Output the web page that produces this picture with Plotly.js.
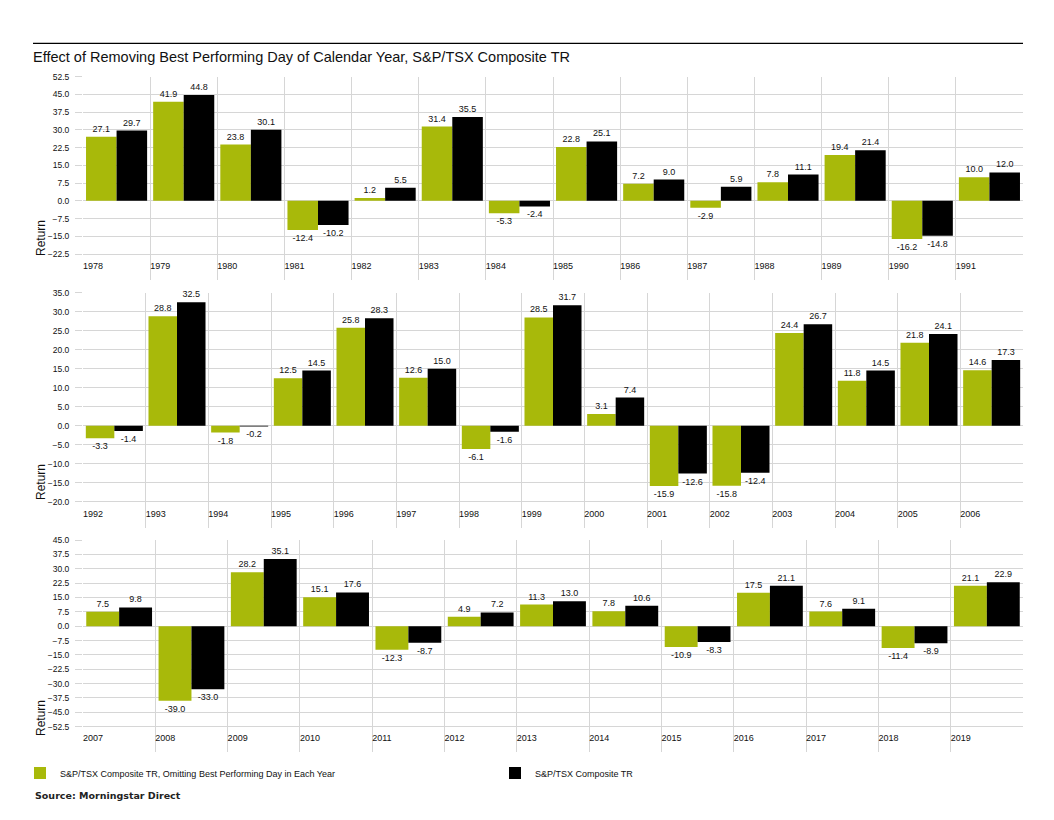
<!DOCTYPE html>
<html><head><meta charset="utf-8">
<script src="https://cdn.plot.ly/plotly-3.0.1.min.js"></script>
<style>html,body{margin:0;padding:0;background:#fff}#chart{width:1054px;height:820px}</style>
</head><body><div id="chart"></div>
<script>
// ---- data ----
const years1 = ['1978','1979','1980','1981','1982','1983','1984','1985','1986','1987','1988','1989','1990','1991'];
const omit1  = [27.1, 41.9, 23.8, -12.4, 1.2, 31.4, -5.3, 22.8, 7.2, -2.9, 7.8, 19.4, -16.2, 10.0];
const full1  = [29.7, 44.8, 30.1, -10.2, 5.5, 35.5, -2.4, 25.1, 9.0, 5.9, 11.1, 21.4, -14.8, 12.0];

const years2 = ['1992','1993','1994','1995','1996','1997','1998','1999','2000','2001','2002','2003','2004','2005','2006'];
const omit2  = [-3.3, 28.8, -1.8, 12.5, 25.8, 12.6, -6.1, 28.5, 3.1, -15.9, -15.8, 24.4, 11.8, 21.8, 14.6];
const full2  = [-1.4, 32.5, -0.2, 14.5, 28.3, 15.0, -1.6, 31.7, 7.4, -12.6, -12.4, 26.7, 14.5, 24.1, 17.3];

const years3 = ['2007','2008','2009','2010','2011','2012','2013','2014','2015','2016','2017','2018','2019'];
const omit3  = [7.5, -39.0, 28.2, 15.1, -12.3, 4.9, 11.3, 7.8, -10.9, 17.5, 7.6, -11.4, 21.1];
const full3  = [9.8, -33.0, 35.1, 17.6, -8.7, 7.2, 13.0, 10.6, -8.3, 21.1, 9.1, -8.9, 22.9];

const yTicks1 = [-22.5, -15, -7.5, 0, 7.5, 15, 22.5, 30, 37.5, 45, 52.5];
const yTicks2 = [-20, -15, -10, -5, 0, 5, 10, 15, 20, 25, 30, 35];
const yTicks3 = [-52.5, -45, -37.5, -30, -22.5, -15, -7.5, 0, 7.5, 15, 22.5, 30, 37.5, 45];

const seriesNames = ['S&P/TSX Composite TR, Omitting Best Performing Day in Each Year', 'S&P/TSX Composite TR'];
const chartTitle = 'Effect of Removing Best Performing Day of Calendar Year, S&P/TSX Composite TR';
const yTitle = 'Return';
const sourceText = 'Source: Morningstar Direct';

// ---- styling / layout ----
const W = 1054, H = 820;
const FONT = 'Liberation Sans, Arial, sans-serif';
const GREEN = '#A8B90A', BLACK = '#000000', GRID = '#d6d6d6', TXT = '#111111';
const px2x = p => p / W;
const px2y = p => 1 - p / H;

const panels = [
  {years: years1, omit: omit1, full: full1, ticks: yTicks1, topPx: 76.7, minPx: 254, botPx: 280, retPx: 238},
  {years: years2, omit: omit2, full: full2, ticks: yTicks2, topPx: 292.7, minPx: 501.7, botPx: 527.7, retPx: 482},
  {years: years3, omit: omit3, full: full3, ticks: yTicks3, topPx: 540, minPx: 726.7, botPx: 751.7, retPx: 718}
];

const traces = [];
const layout = {
  width: W, height: H,
  margin: {l: 0, r: 0, t: 0, b: 0},
  paper_bgcolor: '#fff', plot_bgcolor: '#fff',
  font: {family: FONT, size: 9, color: TXT},
  barmode: 'group', bargap: 0.09, bargroupgap: 0,
  showlegend: true,
  legend: {orientation: 'h', x: px2x(20), xanchor: 'left', y: px2y(773), yanchor: 'middle',
           font: {family: FONT, size: 9, color: TXT}, entrywidth: 430, entrywidthmode: 'pixels',
           itemwidth: 30, bgcolor: 'rgba(0,0,0,0)', traceorder: 'normal'},
  title: {text: chartTitle, x: px2x(33), xanchor: 'left', xref: 'paper', y: px2y(57), yanchor: 'middle', yref: 'paper',
          font: {family: FONT, size: 14.5, color: TXT}},
  shapes: [{type: 'line', xref: 'paper', yref: 'paper', x0: px2x(33), x1: px2x(1023), y0: px2y(43.3), y1: px2y(43.3),
            line: {color: '#000', width: 1.3}}],
  annotations: [{text: sourceText, xref: 'paper', yref: 'paper', x: px2x(33), xanchor: 'left', y: px2y(795), yanchor: 'middle',
                 showarrow: false, font: {family: 'DejaVu Sans, Verdana, sans-serif', size: 9.5, color: '#222', weight: 'bold'}}]
};

panels.forEach((p, k) => {
  const n = p.years.length;
  const idx = p.years.map((_, i) => i);
  const sfx = k === 0 ? '' : String(k + 1);
  const tmin = p.ticks[0], tmax = p.ticks[p.ticks.length - 1];
  const scale = (tmax - tmin) / (p.minPx - p.topPx);
  const rMin = tmin - (p.botPx - p.minPx) * scale;
  [[p.omit, GREEN, seriesNames[0]], [p.full, BLACK, seriesNames[1]]].forEach(([vals, col, name]) => {
    traces.push({
      type: 'bar', x: idx, y: vals, name: name, xaxis: 'x' + sfx, yaxis: 'y' + sfx,
      marker: {color: col, line: {width: 0}},
      text: vals.map(v => v.toFixed(1)), textposition: 'outside', constraintext: 'none',
      textfont: {family: FONT, size: 9, color: TXT}, cliponaxis: false,
      showlegend: k === 0, legendgroup: name, hoverinfo: 'skip'
    });
  });
  const tv = idx.map(i => i - 0.5).concat([n - 0.5]);
  layout['xaxis' + sfx] = {
    domain: [px2x(83), px2x(1023)], anchor: 'y' + sfx, range: [-0.5, n - 0.5],
    tickmode: 'array', tickvals: tv, ticktext: p.years.concat(['']),
    showgrid: true, gridcolor: GRID, gridwidth: 1, zeroline: false, showline: false,
    ticks: '', ticklabelposition: 'inside right', ticklabelstandoff: 3,
    tickfont: {family: FONT, size: 9, color: TXT}, fixedrange: true
  };
  layout['yaxis' + sfx] = {
    domain: [px2y(p.botPx), px2y(p.topPx)], anchor: 'x' + sfx, range: [rMin, tmax],
    tickmode: 'array', tickvals: p.ticks, tickformat: '.1f',
    showgrid: true, gridcolor: GRID, gridwidth: 1, zeroline: false, showline: false,
    ticks: 'outside', ticklen: 7, tickcolor: GRID, tickwidth: 1, ticklabelstandoff: 4,
    tickfont: {family: FONT, size: 8.5, color: TXT}, fixedrange: true
  };
  layout.annotations.push({text: yTitle, xref: 'paper', yref: 'paper', x: px2x(41), y: px2y(p.retPx),
    xanchor: 'center', yanchor: 'middle', textangle: -90, showarrow: false,
    font: {family: FONT, size: 12, color: TXT}});
});

Plotly.newPlot('chart', traces, layout, {displayModeBar: false, staticPlot: true});
</script>
</body></html>
